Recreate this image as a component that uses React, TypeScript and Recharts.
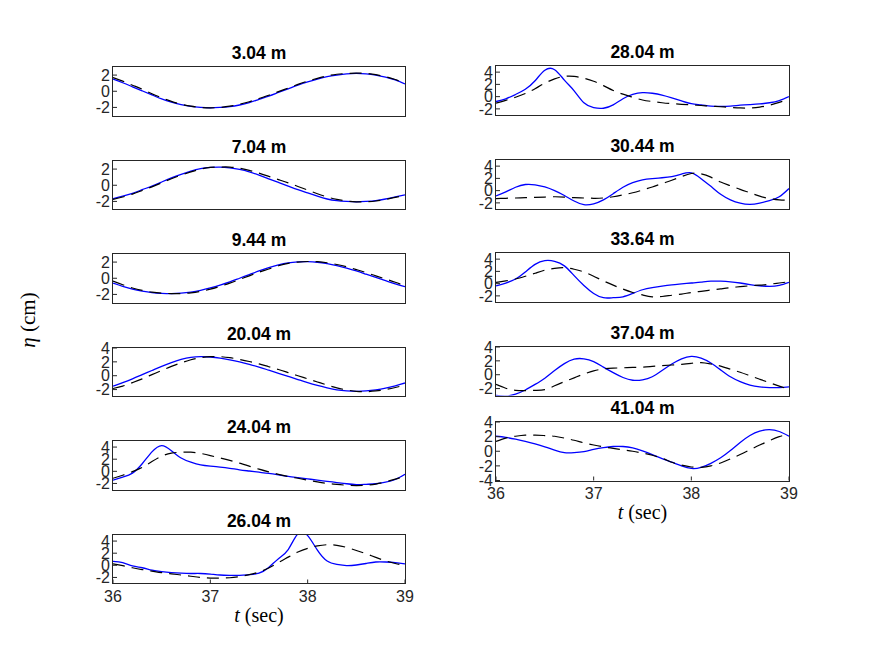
import { Line, LineChart, XAxis, YAxis } from "recharts";

// time axis (s), shared by every panel
const T = [
  36.0, 36.1, 36.2, 36.3, 36.4, 36.5, 36.6, 36.7, 36.8, 36.9, 37.0, 37.1, 37.2, 37.3, 37.4, 37.5,
  37.6, 37.7, 37.8, 37.9, 38.0, 38.1, 38.2, 38.3, 38.4, 38.5, 38.6, 38.7, 38.8, 38.9, 39.0,
];

// surface elevation (cm): solid blue = model, dashed black = gauge
const solid304 = [1.5, 1.05, 0.55, 0.05, -0.45, -0.95, -1.35, -1.65, -1.88, -2.0, -2.05, -2.0, -1.9, -1.7, -1.4, -1.0, -0.6, -0.15, 0.3, 0.75, 1.15, 1.5, 1.8, 2.0, 2.15, 2.2, 2.15, 2.0, 1.75, 1.4, 0.9];
const dashed304 = [1.7, 1.25, 0.75, 0.25, -0.3, -0.8, -1.25, -1.6, -1.85, -2.0, -2.05, -2.0, -1.85, -1.6, -1.3, -0.9, -0.5, -0.05, 0.4, 0.85, 1.25, 1.6, 1.9, 2.1, 2.2, 2.25, 2.2, 2.05, 1.8, 1.45, 0.95];

const solid704 = [-1.65, -1.35, -1.0, -0.55, -0.1, 0.4, 0.9, 1.35, 1.75, 2.05, 2.2, 2.25, 2.15, 1.95, 1.65, 1.25, 0.8, 0.35, -0.1, -0.55, -0.95, -1.35, -1.7, -1.9, -2.0, -2.05, -2.0, -1.9, -1.7, -1.45, -1.2];
const dashed704 = [-1.75, -1.45, -1.1, -0.65, -0.2, 0.3, 0.8, 1.25, 1.65, 2.0, 2.2, 2.25, 2.25, 2.1, 1.85, 1.5, 1.1, 0.7, 0.3, -0.15, -0.6, -1.05, -1.45, -1.75, -1.95, -2.05, -2.05, -1.95, -1.75, -1.5, -1.25];

const solid944 = [-0.6, -1.0, -1.35, -1.6, -1.78, -1.87, -1.9, -1.85, -1.72, -1.5, -1.2, -0.85, -0.45, 0.0, 0.45, 0.9, 1.3, 1.65, 1.9, 2.02, 2.05, 1.98, 1.8, 1.55, 1.25, 0.9, 0.5, 0.1, -0.3, -0.7, -1.05];
const dashed944 = [-0.35, -0.8, -1.2, -1.5, -1.72, -1.85, -1.9, -1.9, -1.8, -1.62, -1.35, -1.0, -0.6, -0.15, 0.3, 0.75, 1.15, 1.55, 1.85, 2.0, 2.07, 2.05, 1.92, 1.7, 1.42, 1.07, 0.7, 0.3, -0.1, -0.5, -0.95];

const solid2004 = [-1.5, -1.0, -0.45, 0.15, 0.75, 1.35, 1.9, 2.35, 2.65, 2.75, 2.7, 2.55, 2.3, 2.0, 1.65, 1.25, 0.8, 0.35, -0.1, -0.55, -1.0, -1.4, -1.75, -2.05, -2.2, -2.25, -2.2, -2.05, -1.8, -1.45, -1.05];
const dashed2004 = [-1.85, -1.5, -1.0, -0.45, 0.15, 0.75, 1.35, 1.85, 2.3, 2.6, 2.75, 2.75, 2.6, 2.35, 2.05, 1.7, 1.3, 0.9, 0.45, 0.0, -0.45, -0.9, -1.35, -1.75, -2.05, -2.25, -2.3, -2.2, -2.0, -1.7, -1.35];

const solid2404 = [-1.45, -0.95, -0.3, 1.25, 3.2, 4.25, 3.4, 2.2, 1.5, 1.05, 0.85, 0.7, 0.5, 0.25, 0.05, -0.15, -0.35, -0.6, -0.85, -1.05, -1.25, -1.45, -1.65, -1.85, -2.05, -2.2, -2.15, -2.05, -1.8, -1.35, -0.5];
const dashed2404 = [-1.15, -0.65, -0.05, 0.65, 1.6, 2.5, 3.0, 3.15, 3.15, 2.95, 2.6, 2.2, 1.8, 1.35, 0.85, 0.35, -0.1, -0.5, -0.85, -1.15, -1.45, -1.75, -2.0, -2.15, -2.3, -2.35, -2.3, -2.1, -1.75, -1.3, -0.8];

const solid2604 = [0.65, 0.45, -0.1, -0.4, -0.8, -1.05, -1.2, -1.3, -1.35, -1.35, -1.45, -1.6, -1.65, -1.65, -1.55, -1.3, -0.35, 1.1, 2.6, 5.2, 4.9, 2.5, 0.7, 0.15, -0.05, 0.05, 0.3, 0.55, 0.55, 0.45, 0.25];
const dashed2604 = [0.25, -0.05, -0.4, -0.7, -0.95, -1.2, -1.4, -1.6, -1.8, -2.0, -2.1, -2.1, -2.05, -1.85, -1.55, -1.1, -0.45, 0.45, 1.35, 2.2, 2.8, 3.2, 3.4, 3.3, 2.95, 2.45, 1.9, 1.3, 0.75, 0.3, -0.05];

const solid2804 = [-0.8, -0.35, 0.35, 1.2, 2.6, 4.3, 4.4, 2.7, 0.95, -1.0, -1.8, -1.9, -1.35, -0.35, 0.35, 0.65, 0.55, 0.25, -0.2, -0.7, -1.15, -1.35, -1.55, -1.6, -1.55, -1.4, -1.3, -1.2, -1.0, -0.65, 0.0];
const dashed2804 = [-1.05, -0.6, -0.1, 0.5, 1.3, 2.2, 2.9, 3.3, 3.3, 3.0, 2.5, 1.8, 1.0, 0.4, -0.1, -0.55, -0.8, -1.0, -1.15, -1.25, -1.35, -1.45, -1.55, -1.65, -1.75, -1.85, -1.85, -1.7, -1.4, -0.95, -0.4];

const solid3044 = [-0.87, -0.2, 0.55, 1.0, 0.95, 0.6, 0.0, -0.8, -1.7, -2.3, -2.15, -1.5, -0.5, 0.55, 1.3, 1.75, 1.95, 2.1, 2.3, 2.7, 2.9, 1.95, 0.7, -0.6, -1.5, -2.05, -2.25, -2.05, -1.65, -1.0, 0.35];
const dashed3044 = [-1.3, -1.25, -1.2, -1.15, -1.1, -1.05, -1.0, -1.05, -1.15, -1.2, -1.25, -1.2, -1.0, -0.7, -0.35, 0.1, 0.6, 1.15, 1.7, 2.3, 2.8, 2.75, 2.2, 1.4, 0.8, 0.2, -0.35, -0.9, -1.3, -1.5, -1.6];

const solid3364 = [-0.36, 0.1, 0.75, 1.9, 3.15, 3.75, 3.65, 2.9, 1.3, -0.3, -1.6, -2.3, -2.3, -2.15, -1.6, -1.0, -0.65, -0.4, -0.2, -0.05, 0.1, 0.25, 0.4, 0.4, 0.3, 0.1, -0.15, -0.35, -0.45, -0.3, 0.2];
const dashed3364 = [0.2, 0.45, 0.75, 1.2, 1.7, 2.2, 2.5, 2.6, 2.35, 1.9, 1.2, 0.45, -0.25, -0.9, -1.45, -1.85, -2.15, -2.1, -1.9, -1.7, -1.45, -1.25, -1.05, -0.85, -0.65, -0.5, -0.35, -0.25, -0.1, 0.1, 0.3];

const solid3704 = [-3.0, -3.1, -2.8, -2.2, -1.4, -0.5, 0.6, 1.6, 2.25, 2.3, 1.9, 1.1, 0.3, -0.4, -0.8, -0.75, -0.3, 0.6, 1.55, 2.3, 2.65, 2.4, 1.7, 0.7, -0.3, -1.0, -1.5, -1.75, -1.85, -1.85, -1.75];
const dashed3704 = [-1.4, -1.95, -2.25, -2.3, -2.25, -2.15, -1.6, -1.0, -0.45, 0.1, 0.55, 0.85, 0.95, 1.0, 1.05, 1.1, 1.2, 1.3, 1.4, 1.5, 1.65, 1.75, 1.55, 1.25, 0.8, 0.35, -0.15, -0.65, -1.15, -1.65, -2.1];

const solid4104 = [2.05, 1.9, 1.65, 1.35, 1.0, 0.6, 0.15, -0.2, -0.2, -0.05, 0.25, 0.5, 0.65, 0.65, 0.45, 0.05, -0.45, -1.0, -1.5, -2.0, -2.35, -2.2, -1.65, -0.9, 0.1, 1.2, 2.15, 2.75, 2.95, 2.7, 2.05];
const dashed4104 = [1.35, 1.8, 2.05, 2.2, 2.2, 2.15, 2.05, 1.8, 1.5, 1.15, 0.85, 0.6, 0.4, 0.2, 0.0, -0.25, -0.55, -0.95, -1.5, -1.9, -2.15, -2.2, -2.0, -1.6, -1.05, -0.45, 0.2, 0.85, 1.45, 2.0, 2.3];

const X_TICKS = [36, 37, 38, 39];
const Y_TICKS_A = [-2, 0, 2];
const Y_TICKS_B = [-2, 0, 2, 4];
const Y_TICKS_C = [-4, -2, 0, 2, 4];

const AXIS = "#262626";
const SANS = "'Liberation Sans', Arial, Helvetica, sans-serif";
const SERIF = "'Liberation Serif', 'DejaVu Serif', serif";
const TICK_SIZE = 16;

interface PanelSpec {
  title: string;
  solid: number[];
  dashed: number[];
  yDomain: [number, number];
  yTicks: number[];
  x: number;
  y: number;
  w: number;
  h: number;
  showX: boolean;
}

const LEFT_X = 113;
const RIGHT_X = 496;

const panels: PanelSpec[] = [
  { title: "3.04 m", solid: solid304, dashed: dashed304, yDomain: [-3, 3], yTicks: Y_TICKS_A, x: LEFT_X, y: 67, w: 292, h: 48.5, showX: false },
  { title: "7.04 m", solid: solid704, dashed: dashed704, yDomain: [-3, 3], yTicks: Y_TICKS_A, x: LEFT_X, y: 160.5, w: 292, h: 48.5, showX: false },
  { title: "9.44 m", solid: solid944, dashed: dashed944, yDomain: [-3, 3], yTicks: Y_TICKS_A, x: LEFT_X, y: 254, w: 292, h: 48.5, showX: false },
  { title: "20.04 m", solid: solid2004, dashed: dashed2004, yDomain: [-3, 4], yTicks: Y_TICKS_B, x: LEFT_X, y: 347.5, w: 292, h: 48.5, showX: false },
  { title: "24.04 m", solid: solid2404, dashed: dashed2404, yDomain: [-3, 5], yTicks: Y_TICKS_B, x: LEFT_X, y: 441, w: 292, h: 48.5, showX: false },
  { title: "26.04 m", solid: solid2604, dashed: dashed2604, yDomain: [-3, 5], yTicks: Y_TICKS_B, x: LEFT_X, y: 534.5, w: 292, h: 48.5, showX: true },
  { title: "28.04 m", solid: solid2804, dashed: dashed2804, yDomain: [-3, 5], yTicks: Y_TICKS_B, x: RIGHT_X, y: 66, w: 293, h: 49, showX: false },
  { title: "30.44 m", solid: solid3044, dashed: dashed3044, yDomain: [-3, 5], yTicks: Y_TICKS_B, x: RIGHT_X, y: 159.5, w: 293, h: 49, showX: false },
  { title: "33.64 m", solid: solid3364, dashed: dashed3364, yDomain: [-3, 5], yTicks: Y_TICKS_B, x: RIGHT_X, y: 253, w: 293, h: 49, showX: false },
  { title: "37.04 m", solid: solid3704, dashed: dashed3704, yDomain: [-3, 4], yTicks: Y_TICKS_B, x: RIGHT_X, y: 347, w: 293, h: 48.5, showX: false },
  { title: "41.04 m", solid: solid4104, dashed: dashed4104, yDomain: [-4, 4], yTicks: Y_TICKS_C, x: RIGHT_X, y: 422, w: 293, h: 58.5, showX: true },
];

const tickFont = { fontSize: TICK_SIZE, fontFamily: SANS, fill: AXIS };

function Panel({ p }: { p: PanelSpec }) {
  const data = T.map((t, i) => ({ t, s: p.solid[i], d: p.dashed[i] }));
  const leftW = 40;
  const rightW = 2;
  const padT = 10;
  const padR = 14;
  const padB = 2;
  const xH = p.showX ? 30 : 0;
  const W = p.w + leftW + rightW + padR;
  const H = p.h + padT + padB + xH;
  return (
    <>
      <div
        style={{
          position: "absolute",
          left: p.x,
          top: p.y - 24,
          width: p.w,
          height: 20,
          lineHeight: "20px",
          textAlign: "center",
          fontFamily: SANS,
          fontWeight: "bold",
          fontSize: 17.5,
          color: "#000",
        }}
      >
        {p.title}
      </div>
      <div style={{ position: "absolute", left: p.x - leftW, top: p.y - padT, width: W, height: H }}>
        <LineChart width={W} height={H} data={data} margin={{ top: padT, right: padR, bottom: padB, left: 0 }}>
          <XAxis
            xAxisId="b"
            dataKey="t"
            type="number"
            domain={[36, 39]}
            ticks={X_TICKS}
            interval={0}
            height={xH}
            stroke={AXIS}
            axisLine={false}
            fontSize={TICK_SIZE}
            tick={p.showX ? tickFont : false}
            tickLine={p.showX}
            tickSize={-4}
            tickMargin={11}
            allowDataOverflow
          />
          <XAxis
            xAxisId="t"
            orientation="top"
            dataKey="t"
            type="number"
            domain={[36, 39]}
            ticks={X_TICKS}
            interval={0}
            height={0}
            stroke={AXIS}
            axisLine={false}
            tick={false}
            tickLine={p.showX}
            tickSize={-4}
            allowDataOverflow
          />
          <YAxis
            yAxisId="l"
            type="number"
            domain={p.yDomain}
            ticks={p.yTicks}
            interval={0}
            width={leftW}
            stroke={AXIS}
            axisLine={false}
            fontSize={TICK_SIZE}
            tick={tickFont}
            tickSize={-4}
            tickMargin={7}
            allowDataOverflow
          />
          <YAxis
            yAxisId="r"
            orientation="right"
            type="number"
            domain={p.yDomain}
            ticks={p.yTicks}
            interval={0}
            width={rightW}
            stroke={AXIS}
            axisLine={false}
            tick={false}
            tickSize={-4}
            allowDataOverflow
          />
          <Line
            xAxisId="b"
            yAxisId="l"
            dataKey="s"
            type="natural"
            stroke="#0000ff"
            strokeWidth={1.3}
            dot={false}
            isAnimationActive={false}
          />
          <Line
            xAxisId="b"
            yAxisId="l"
            dataKey="d"
            type="natural"
            stroke="#000"
            strokeWidth={1.2}
            strokeDasharray="12 7"
            dot={false}
            isAnimationActive={false}
          />
        </LineChart>
      </div>
      {/* axes box */}
      <div
        style={{
          position: "absolute",
          left: p.x - 1,
          top: p.y - 1,
          width: p.w,
          height: p.h,
          border: `1px solid ${AXIS}`,
          pointerEvents: "none",
        }}
      />
    </>
  );
}

function XLabel({ cx, top }: { cx: number; top: number }) {
  return (
    <div
      style={{
        position: "absolute",
        left: cx - 60,
        top,
        width: 120,
        height: 24,
        lineHeight: "24px",
        textAlign: "center",
        fontFamily: SERIF,
        fontSize: 20,
        color: "#000",
      }}
    >
      <i>t</i> (sec)
    </div>
  );
}

export default function App() {
  return (
    <div style={{ position: "absolute", left: 0, top: 0, width: 872, height: 654, background: "#fff", overflow: "hidden" }}>
      {panels.map((p) => (
        <Panel key={p.title} p={p} />
      ))}
      <XLabel cx={259} top={603} />
      <XLabel cx={642.5} top={500} />
      <div
        style={{
          position: "absolute",
          left: 28 - 50,
          top: 320 - 12,
          width: 100,
          height: 24,
          lineHeight: "24px",
          textAlign: "center",
          fontFamily: SERIF,
          fontSize: 21,
          color: "#000",
          transform: "rotate(-90deg)",
        }}
      >
        <i>η</i> (cm)
      </div>
    </div>
  );
}
